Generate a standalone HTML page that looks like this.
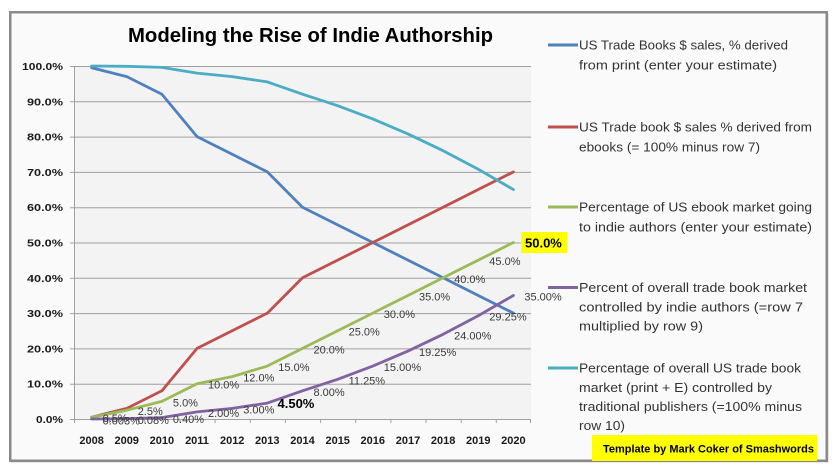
<!DOCTYPE html>
<html><head><meta charset="utf-8"><style>
html,body{margin:0;padding:0;background:#fff;}
svg{display:block;}
text{font-family:"Liberation Sans",Arial,sans-serif;}
</style></head><body>
<svg width="839" height="472" viewBox="0 0 839 472" xmlns="http://www.w3.org/2000/svg">
<rect x="0" y="0" width="839" height="472" fill="#ffffff"/>
<!-- chart frame -->
<rect x="11.5" y="13.5" width="817" height="449" fill="#d0d0d0"/>
<rect x="10.25" y="12.25" width="816.5" height="448.5" fill="#fafafa" stroke="#8a8a8a" stroke-width="2.5"/>
<!-- plot area -->
<rect x="74" y="66" width="457" height="353" fill="#f3f3f3"/>
<!-- title -->
<text x="310.5" y="42" font-size="20" font-weight="bold" fill="#000" text-anchor="middle" textLength="365" lengthAdjust="spacingAndGlyphs">Modeling the Rise of Indie Authorship</text>
<!-- gridlines -->
<g stroke="#a0a0a0" stroke-width="1">
<line x1="70" y1="66.5" x2="531" y2="66.5"/>
<line x1="70" y1="101.8" x2="531" y2="101.8"/>
<line x1="70" y1="137.1" x2="531" y2="137.1"/>
<line x1="70" y1="172.4" x2="531" y2="172.4"/>
<line x1="70" y1="207.7" x2="531" y2="207.7"/>
<line x1="70" y1="243" x2="531" y2="243"/>
<line x1="70" y1="278.3" x2="531" y2="278.3"/>
<line x1="70" y1="313.6" x2="531" y2="313.6"/>
<line x1="70" y1="348.9" x2="531" y2="348.9"/>
<line x1="70" y1="384.2" x2="531" y2="384.2"/>
<line x1="70" y1="419.5" x2="531" y2="419.5"/>
<line x1="74.5" y1="66" x2="74.5" y2="423"/>
<line x1="109.65" y1="419" x2="109.65" y2="423"/>
<line x1="144.8" y1="419" x2="144.8" y2="423"/>
<line x1="179.96" y1="419" x2="179.96" y2="423"/>
<line x1="215.1" y1="419" x2="215.1" y2="423"/>
<line x1="250.27" y1="419" x2="250.27" y2="423"/>
<line x1="285.4" y1="419" x2="285.4" y2="423"/>
<line x1="320.6" y1="419" x2="320.6" y2="423"/>
<line x1="355.7" y1="419" x2="355.7" y2="423"/>
<line x1="390.9" y1="419" x2="390.9" y2="423"/>
<line x1="426" y1="419" x2="426" y2="423"/>
<line x1="461.2" y1="419" x2="461.2" y2="423"/>
<line x1="496.3" y1="419" x2="496.3" y2="423"/>
<line x1="530.5" y1="419" x2="530.5" y2="423"/>
</g>
<!-- y labels -->
<g font-size="10.5" font-weight="bold" fill="#1a1a1a" text-anchor="end">
<text x="63" y="70" textLength="41" lengthAdjust="spacingAndGlyphs">100.0%</text>
<text x="63" y="105.3" textLength="36" lengthAdjust="spacingAndGlyphs">90.0%</text>
<text x="63" y="140.6" textLength="36" lengthAdjust="spacingAndGlyphs">80.0%</text>
<text x="63" y="175.9" textLength="36" lengthAdjust="spacingAndGlyphs">70.0%</text>
<text x="63" y="211.2" textLength="36" lengthAdjust="spacingAndGlyphs">60.0%</text>
<text x="63" y="246.5" textLength="36" lengthAdjust="spacingAndGlyphs">50.0%</text>
<text x="63" y="281.8" textLength="36" lengthAdjust="spacingAndGlyphs">40.0%</text>
<text x="63" y="317.1" textLength="36" lengthAdjust="spacingAndGlyphs">30.0%</text>
<text x="63" y="352.4" textLength="36" lengthAdjust="spacingAndGlyphs">20.0%</text>
<text x="63" y="387.7" textLength="36" lengthAdjust="spacingAndGlyphs">10.0%</text>
<text x="63" y="423" textLength="27" lengthAdjust="spacingAndGlyphs">0.0%</text>
</g>
<!-- x labels -->
<g font-size="11" font-weight="bold" fill="#1a1a1a" text-anchor="middle">
<text x="91.6" y="444">2008</text>
<text x="126.7" y="444">2009</text>
<text x="161.9" y="444">2010</text>
<text x="197" y="444">2011</text>
<text x="232.2" y="444">2012</text>
<text x="267.3" y="444">2013</text>
<text x="302.5" y="444">2014</text>
<text x="337.7" y="444">2015</text>
<text x="372.8" y="444">2016</text>
<text x="408" y="444">2017</text>
<text x="443.1" y="444">2018</text>
<text x="478.3" y="444">2019</text>
<text x="513.4" y="444">2020</text>
</g>
<!-- series -->
<g fill="none" stroke-width="2.8" stroke-linejoin="round" stroke-linecap="round">
<polyline stroke="#4f81bd" points="91.58,67.77 126.73,76.59 161.89,94.24 197.04,136.6 232.19,154.25 267.35,171.9 302.5,207.2 337.65,224.85 372.81,242.5 407.96,260.15 443.12,277.8 478.27,295.45 513.42,313.1"/>
<polyline stroke="#c0504d" points="91.58,417.2 126.73,408.4 161.89,390.8 197.04,348.4 232.19,330.75 267.35,313.1 302.5,277.8 337.65,260.15 372.81,242.5 407.96,224.85 443.12,207.2 478.27,189.55 513.42,171.9"/>
<polyline stroke="#9bbb59" points="91.58,417.2 126.73,410.2 161.89,401.35 197.04,383.7 232.19,376.64 267.35,366.05 302.5,348.4 337.65,330.75 372.81,313.1 407.96,295.45 443.12,277.8 478.27,260.15 513.42,242.5"/>
<polyline stroke="#8064a2" points="91.58,419 126.73,418.7 161.89,417.6 197.04,411.9 232.19,408.4 267.35,403.1 302.5,390.8 337.65,379.3 372.81,366.05 407.96,351.05 443.12,334.3 478.27,315.75 513.42,295.45"/>
<polyline stroke="#4bacc6" points="91.58,66 126.73,66.3 161.89,67.4 197.04,73.1 232.19,76.6 267.35,81.9 302.5,94.2 337.65,105.7 372.81,118.95 407.96,133.95 443.12,150.7 478.27,169.25 513.42,189.55"/>
</g>
<!-- green labels -->
<g font-size="11" fill="#3a3a3a">
<text x="102.6" y="422.2">0.5%</text>
<text x="137.7" y="415.2">2.5%</text>
<text x="172.9" y="406.4">5.0%</text>
<text x="208" y="388.7">10.0%</text>
<text x="243.2" y="381.6">12.0%</text>
<text x="278.3" y="371">15.0%</text>
<text x="313.5" y="353.4">20.0%</text>
<text x="348.6" y="335.7">25.0%</text>
<text x="383.8" y="318.1">30.0%</text>
<text x="419" y="300.4">35.0%</text>
<text x="454.1" y="282.8">40.0%</text>
<text x="489.3" y="265.1">45.0%</text>
</g>
<rect x="521" y="232" width="46" height="21" fill="#ffff00"/>
<text x="525" y="247.3" font-size="13" font-weight="bold" fill="#000">50.0%</text>
<!-- purple labels -->
<g font-size="11" fill="#3a3a3a">
<text x="102.6" y="424.5">0.003%</text>
<text x="137.7" y="424">0.08%</text>
<text x="172.9" y="423">0.40%</text>
<text x="208" y="417">2.00%</text>
<text x="243.2" y="413.4">3.00%</text>
<text x="313.5" y="395.8">8.00%</text>
<text x="348.6" y="384.3">11.25%</text>
<text x="383.8" y="371">15.00%</text>
<text x="419" y="356">19.25%</text>
<text x="454.1" y="339.3">24.00%</text>
<text x="489.3" y="320.7">29.25%</text>
<text x="524.4" y="300.4">35.00%</text>
</g>
<text x="277.5" y="407.8" font-size="13" font-weight="bold" fill="#000">4.50%</text>
<!-- legend -->
<g stroke-width="3">
<line x1="548" y1="45" x2="578" y2="45" stroke="#4f81bd"/>
<line x1="548" y1="127" x2="578" y2="127" stroke="#c0504d"/>
<line x1="548" y1="207" x2="578" y2="207" stroke="#9bbb59"/>
<line x1="548" y1="287.5" x2="578" y2="287.5" stroke="#8064a2"/>
<line x1="548" y1="368" x2="578" y2="368" stroke="#4bacc6"/>
</g>
<g font-size="13" fill="#333">
<text x="579" y="49.5" textLength="209" lengthAdjust="spacingAndGlyphs">US Trade Books $ sales, % derived</text>
<text x="579" y="69.5" textLength="198" lengthAdjust="spacingAndGlyphs">from print (enter your estimate)</text>
<text x="579" y="131.5" textLength="233" lengthAdjust="spacingAndGlyphs">US Trade book $ sales % derived from</text>
<text x="579" y="151.5" textLength="181" lengthAdjust="spacingAndGlyphs">ebooks (= 100% minus row 7)</text>
<text x="579" y="211.5" textLength="233" lengthAdjust="spacingAndGlyphs">Percentage of US ebook market going</text>
<text x="579" y="231.5" textLength="233" lengthAdjust="spacingAndGlyphs">to indie authors (enter your estimate)</text>
<text x="579" y="292" textLength="228" lengthAdjust="spacingAndGlyphs">Percent of overall trade book market</text>
<text x="579" y="311.5" textLength="224" lengthAdjust="spacingAndGlyphs">controlled by indie authors (=row 7</text>
<text x="579" y="330.5" textLength="124" lengthAdjust="spacingAndGlyphs">multiplied by row 9)</text>
<text x="579" y="372.5" textLength="222" lengthAdjust="spacingAndGlyphs">Percentage of overall US trade book</text>
<text x="579" y="392" textLength="193" lengthAdjust="spacingAndGlyphs">market (print + E) controlled by</text>
<text x="579" y="411" textLength="223" lengthAdjust="spacingAndGlyphs">traditional publishers (=100% minus</text>
<text x="579" y="430" textLength="46" lengthAdjust="spacingAndGlyphs">row 10)</text>
</g>
<!-- template note -->
<rect x="592" y="435" width="225" height="26" fill="#ffff00"/>
<text x="603" y="452.5" font-size="11" font-weight="bold" fill="#000" textLength="211" lengthAdjust="spacingAndGlyphs">Template by Mark Coker of Smashwords</text>
</svg>
</body></html>
